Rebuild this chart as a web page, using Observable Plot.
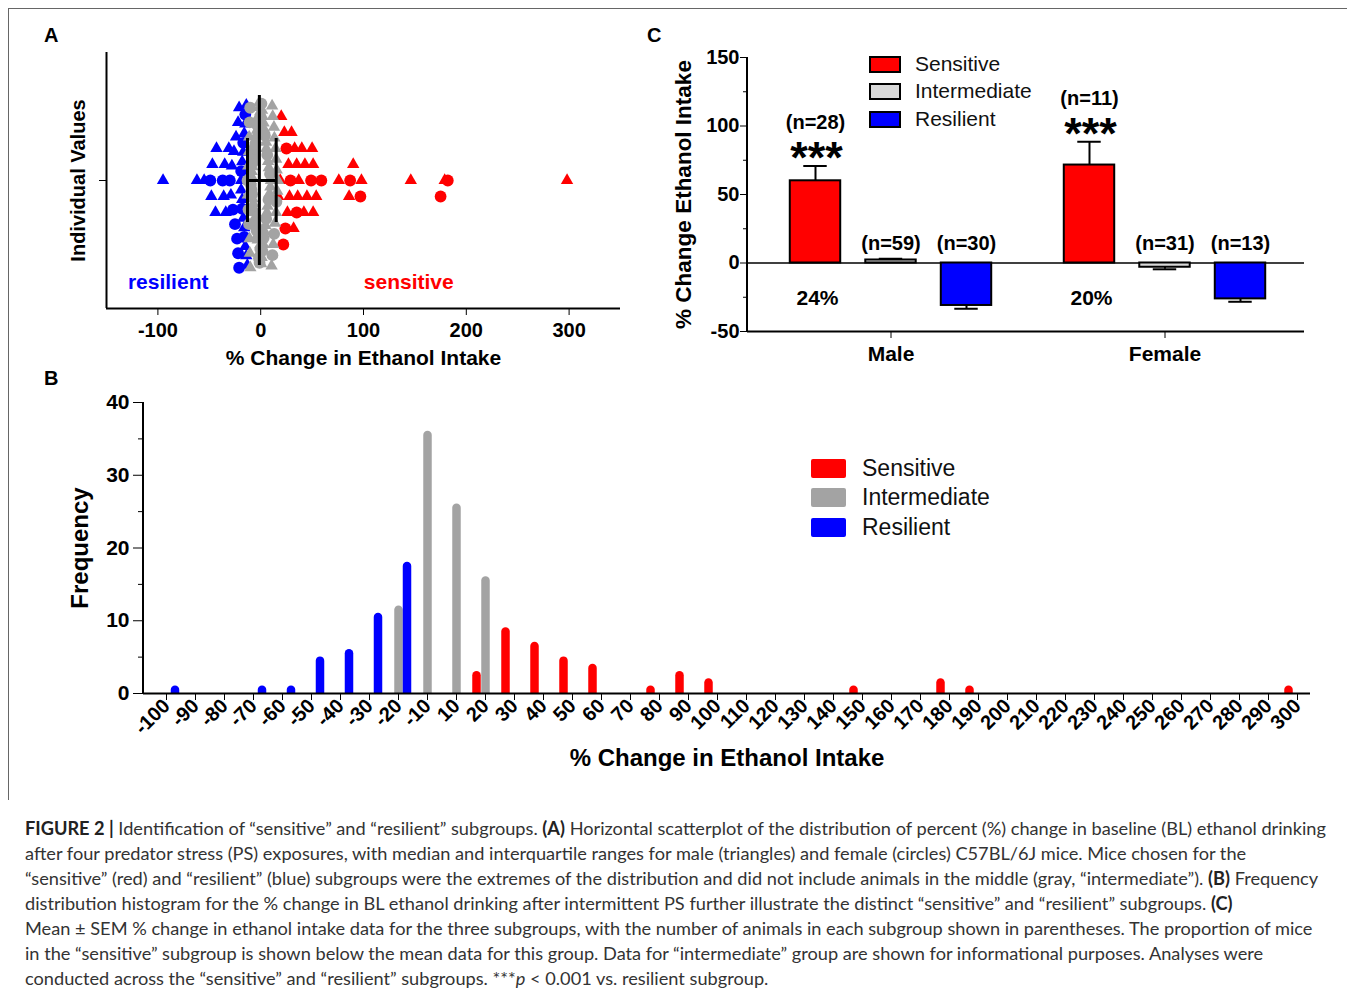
<!DOCTYPE html>
<html><head><meta charset="utf-8">
<script src="https://cdn.jsdelivr.net/npm/d3@7"></script>
<script src="https://cdn.jsdelivr.net/npm/@observablehq/plot@0.6"></script>
<style>
html,body{margin:0;padding:0;background:#fff;}
body{width:1355px;height:997px;position:relative;overflow:hidden;font-family:"Liberation Sans",Arial,Helvetica,sans-serif;}
.abs{position:absolute;}
.plab{position:absolute;font-weight:bold;font-size:20px;line-height:20px;color:#000;}
.lg{position:absolute;display:flex;align-items:center;white-space:nowrap;color:#111;}
.cap{position:absolute;left:25px;top:816px;font-family:Lato,"Open Sans",sans-serif;font-size:18.2px;line-height:25px;color:#333;}
.ln{white-space:nowrap;}
.cap b{color:#222;}
</style></head><body>
<div class="abs" style="left:8px;top:8px;width:1339px;height:1px;background:#666"></div>
<div class="abs" style="left:8px;top:8px;width:1px;height:792px;background:#666"></div>
<div class="plab" style="left:44px;top:25px">A</div>
<div class="plab" style="left:44px;top:368px">B</div>
<div class="plab" style="left:647px;top:25px">C</div>

<div class="cap">
<div class="ln"><b>FIGURE 2 |</b> Identification of “sensitive” and “resilient” subgroups. <b>(A)</b> Horizontal scatterplot of the distribution of percent (%) change in baseline (BL) ethanol drinking</div>
<div class="ln">after four predator stress (PS) exposures, with median and interquartile ranges for male (triangles) and female (circles) C57BL/6J mice. Mice chosen for the</div>
<div class="ln">“sensitive” (red) and “resilient” (blue) subgroups were the extremes of the distribution and did not include animals in the middle (gray, “intermediate”). <b>(B)</b> Frequency</div>
<div class="ln">distribution histogram for the % change in BL ethanol drinking after intermittent PS further illustrate the distinct “sensitive” and “resilient” subgroups. <b>(C)</b></div>
<div class="ln">Mean ± SEM % change in ethanol intake data for the three subgroups, with the number of animals in each subgroup shown in parentheses. The proportion of mice</div>
<div class="ln">in the “sensitive” subgroup is shown below the mean data for this group. Data for “intermediate” group are shown for informational purposes. Analyses were</div>
<div class="ln">conducted across the “sensitive” and “resilient” subgroups. ***<i>p</i> &lt; 0.001 vs. resilient subgroup.</div>
</div>

<script>
const FONT = "'Liberation Sans', Arial, Helvetica, sans-serif";

// ---------------- shared categories ----------------
const groups = ["Sensitive", "Intermediate", "Resilient"];
const groupColors = ["#ff0000", "#a3a3a3", "#0000ff"];
const barColorsC = ["#ff0000", "#d9d9d9", "#0000ff"];
const sexes = ["Male", "Female"];

// ---------------- Panel A: individual values (% change) ----------------
const maleSensitive = [17, 19, 20, 23, 26, 27, 28, 30, 32, 33, 35, 36, 37, 40, 42, 43, 45, 50, 51, 51, 54, 76, 86, 90, 98, 146, 179, 298];
const femaleSensitive = [22, 24, 25, 29, 35, 49, 59, 87, 97, 175, 182];
const maleIntermediate = [-12.6, -12.1, -11.4, -11.2, -10.8, -10.5, -10.1, -9.7, -9.2, -8.8, -8.1, -7.9, -7.3, -6.8, -6.0, -5.4, -5.1, -4.7, -4.2, -3.6, -3.3, -2.9, -2.2, -1.8, -1.5, -0.9, -0.6, -0.2, 0.4, 0.9, 1.3, 1.9, 2.6, 2.8, 3.5, 3.9, 4.6, 5.2, 5.5, 6.1, 6.7, 7.2, 7.9, 8.6, 9.4, 9.9, 10.6, 11.1, 11.7, 12.2, 12.9, 13.3, 13.8, 14.4, 14.9, 15.0, 15.6, 16.1, 16.7];
const femaleIntermediate = [-12.8, -11.9, -11.3, -10.7, -10.2, -9.6, -9.0, -8.4, -7.7, -7.1, -6.4, -5.8, -5.2, -4.5, -3.9, -3.1, -2.5, -1.7, -1.1, -0.4, 0.7, 1.6, 2.9, 4.1, 5.3, 6.4, 7.6, 9.1, 11.4, 13.1, 15.3];
const maleResilient = [-95, -62, -55, -48, -47, -44, -43, -36, -35, -34, -31, -29, -28, -26, -24, -22, -21, -19, -19, -18, -18, -17, -17, -16, -16, -15, -15, -14, -14, -13];
const femaleResilient = [-49, -37, -30, -27, -25, -23, -22, -21, -19, -18, -17, -16, -15];
const xTicksA = [-100, 0, 100, 200, 300];

// ---------------- Panel B: frequency histogram ----------------
const binLabels = [-100, -90, -80, -70, -60, -50, -40, -30, -20, -10, 10, 20, 30, 40, 50, 60, 70, 80, 90, 100, 110, 120, 130, 140, 150, 160, 170, 180, 190, 200, 210, 220, 230, 240, 250, 260, 270, 280, 290, 300];
const sensitiveFreq    = [0, 0, 0, 0, 0, 0, 0, 0, 0, 0, 0, 3, 9, 7, 5, 4, 0, 1, 3, 2, 0, 0, 0, 0, 1, 0, 0, 2, 1, 0, 0, 0, 0, 0, 0, 0, 0, 0, 0, 1];
const intermediateFreq = [0, 0, 0, 0, 0, 0, 0, 0, 12, 36, 26, 16, 0, 0, 0, 0, 0, 0, 0, 0, 0, 0, 0, 0, 0, 0, 0, 0, 0, 0, 0, 0, 0, 0, 0, 0, 0, 0, 0, 0];
const resilientFreq    = [1, 0, 0, 1, 1, 5, 6, 11, 18, 0, 0, 0, 0, 0, 0, 0, 0, 0, 0, 0, 0, 0, 0, 0, 0, 0, 0, 0, 0, 0, 0, 0, 0, 0, 0, 0, 0, 0, 0, 0];
const yTicksB = [0, 10, 20, 30, 40];
const yMinorB = [5, 15, 25, 35];

// ---------------- Panel C: mean ± SEM ----------------
const meanSensitive = [60, 71.5];
const semSensitive = [10.8, 17];
const meanIntermediate = [2.2, -3.1];
const semIntermediate = [0.9, 1.5];
const meanResilient = [-31, -26.2];
const semResilient = [2.4, 2.1];
const nSensitive = [28, 11];
const nIntermediate = [59, 31];
const nResilient = [30, 13];
const yTicksC = [-50, 0, 50, 100, 150];
const yMinorC = [-25, 25, 75, 125];

function svgStyle(extra) {
  return Object.assign({fontFamily: FONT, fontWeight: "bold", color: "black", background: "transparent", overflow: "visible", maxWidth: "none"}, extra || {});
}
function place(node, left, top) {
  const d = document.createElement("div");
  d.style.cssText = `position:absolute;left:${left}px;top:${top}px;`;
  d.appendChild(node);
  document.body.appendChild(d);
}

// ======== Panel A ========
const points = [];
function addPts(vals, group, sex) { vals.forEach(v => points.push({value: v, group, sex})); }
addPts(maleResilient, "Resilient", "Male");
addPts(femaleResilient, "Resilient", "Female");
addPts(maleSensitive, "Sensitive", "Male");
addPts(femaleSensitive, "Sensitive", "Female");
addPts(maleIntermediate, "Intermediate", "Male");
addPts(femaleIntermediate, "Intermediate", "Female");
const allVals = points.map(d => d.value);
const med = d3.median(allVals);
const q1 = d3.quantile(allVals, 0.25);
const q3 = d3.quantile(allVals, 0.75);

// column-scatter layout: points of a group falling in the same 10-unit bin are
// spread symmetrically across the column (most extreme value at the centre line)
const BIN = 10, HALF = 80, STEP = 16;
for (const [, arr] of d3.group(points, d => d.group + "|" + Math.floor(d.value / BIN))) {
  arr.sort((a, b) => Math.abs(b.value - med) - Math.abs(a.value - med));
  const n = arr.length;
  const s = n > 1 ? Math.min(STEP, 2 * HALF / (n - 1)) : 0;
  arr.forEach((d, i) => { d.spread = (i % 2 ? -1 : 1) * Math.ceil(i / 2) * s; });
}

const plotA = Plot.plot({
  width: 640, height: 380,
  marginLeft: 106, marginRight: 20, marginTop: 52, marginBottom: 72,
  x: {domain: [-150, 350]},
  y: {domain: [-128, 128]},
  r: {type: "identity"},
  color: {domain: groups, range: groupColors},
  symbol: {domain: ["Male", "Female"], range: ["triangle", "circle"]},
  style: svgStyle({fontSize: "20px"}),
  marks: [
    Plot.axisX({ticks: xTicksA, tickSize: 7, tickPadding: 7, fontSize: 20, tickFormat: d => String(d), label: null}),
    Plot.axisY({ticks: [0], tickSize: 7, tickFormat: () => "", label: null}),
    Plot.dot(points, {x: "value", y: "spread", r: d => d.sex === "Male" ? 4.6 : 5.9, symbol: "sex", fill: "group", sort: null}),
    Plot.ruleX([-150], {strokeWidth: 2}),
    Plot.ruleY([-128], {strokeWidth: 2}),
    Plot.ruleX([med], {y1: -85, y2: 85, strokeWidth: 3}),
    Plot.ruleX([q1, q3], {y1: -42, y2: 42, strokeWidth: 3}),
    Plot.ruleY([0], {x1: q1, x2: q3, strokeWidth: 3}),
    Plot.text(["resilient"], {x: -90, y: -102, fill: groupColors[2], fontSize: 21}),
    Plot.text(["sensitive"], {x: 144, y: -102, fill: groupColors[0], fontSize: 21}),
    Plot.text(["Individual Values"], {frameAnchor: "left", textAnchor: "middle", rotate: -90, dx: -28, fontSize: 20}),
    Plot.text(["% Change in Ethanol Intake"], {frameAnchor: "bottom", dy: 56, fontSize: 21})
  ]
});
place(plotA, 0, 0);

// ======== Panel B ========
const histRows = [];
binLabels.forEach((b, i) => {
  histRows.push({bin: b, group: "Sensitive", count: sensitiveFreq[i]});
  histRows.push({bin: b, group: "Intermediate", count: intermediateFreq[i]});
  histRows.push({bin: b, group: "Resilient", count: resilientFreq[i]});
});
const offsetsB = {Sensitive: -9, Intermediate: 0, Resilient: 8.5};
const frameWB = 1355 - 143 - 45;
const plotB = Plot.plot({
  width: 1355, height: 420,
  marginLeft: 143, marginRight: 45, marginTop: 22, marginBottom: 107,
  x: {type: "point", domain: binLabels, padding: 0, insetLeft: 14, insetRight: 5},
  y: {domain: [0, 40]},
  style: svgStyle({fontSize: "20px"}),
  marks: [
    ...groups.map((g, k) => Plot.ruleX(histRows.filter(d => d.group === g && d.count > 0), {
      x: "bin", y1: 0, y2: "count", dx: offsetsB[g], dy: 4, stroke: groupColors[k],
      strokeWidth: 8.5, strokeLinecap: "round", clip: true
    })),
    Plot.rect([0], {y1: 0, y2: 40, fill: "black", insetLeft: -1, insetRight: frameWB - 1}),
    Plot.ruleY([0], {strokeWidth: 2}),
    Plot.axisY({ticks: yTicksB, tickSize: 10, tickPadding: 4, fontSize: 21, tickFormat: d => String(d), label: null}),
    Plot.axisY({ticks: yMinorB, tickSize: 5, tickFormat: () => "", label: null}),
    Plot.axisX({tickSize: 7, tickPadding: 2, tickRotate: -45, fontSize: 20, tickFormat: d => String(d), label: null}),
    Plot.text(["Frequency"], {frameAnchor: "left", textAnchor: "middle", rotate: -90, dx: -63, fontSize: 24}),
    Plot.text(["% Change in Ethanol Intake"], {frameAnchor: "bottom", dy: 72, fontSize: 24})
  ]
});
place(plotB, 0, 380);

// ======== Panel C ========
const rowsC = [];
sexes.forEach((sex, i) => {
  const tot = nSensitive[i] + nIntermediate[i] + nResilient[i];
  rowsC.push({sex, group: "Sensitive", mean: meanSensitive[i], sem: semSensitive[i], n: nSensitive[i], pct: Math.round(100 * nSensitive[i] / tot) + "%"});
  rowsC.push({sex, group: "Intermediate", mean: meanIntermediate[i], sem: semIntermediate[i], n: nIntermediate[i]});
  rowsC.push({sex, group: "Resilient", mean: meanResilient[i], sem: semResilient[i], n: nResilient[i]});
});
const errEnd = d => d.mean + Math.sign(d.mean) * d.sem;
const cRange = [141, 635];
const padInC = 0.2;
const bwC = (cRange[1] - cRange[0]) / (sexes.length - padInC) * (1 - padInC);
const barW = 51, capW = 24;
const offsetsC = {Sensitive: -75.5, Intermediate: 0, Resilient: 75.5};
const frameWC = 700 - 107 - 36;
const marksC = [];
groups.forEach((g, k) => {
  const rows = rowsC.filter(d => d.group === g);
  const dx = offsetsC[g];
  marksC.push(
    Plot.barY(rows, {x: "sex", y: "mean", fill: barColorsC[k], stroke: "black", strokeWidth: 2,
      insetLeft: (bwC - barW) / 2, insetRight: (bwC - barW) / 2, dx}),
    Plot.ruleX(rows, {x: "sex", y1: "mean", y2: errEnd, dx, strokeWidth: 2}),
    Plot.tickY(rows, {x: "sex", y: errEnd, dx, strokeWidth: 2,
      insetLeft: (bwC - capW) / 2, insetRight: (bwC - capW) / 2}),
    Plot.text(rows, {x: "sex", y: d => g === "Sensitive" ? errEnd(d) + 31.6 : 14, text: d => `(n=${d.n})`, dx, fontSize: 20})
  );
  if (g === "Sensitive") {
    marksC.push(
      Plot.text(rows, {x: "sex", y: d => errEnd(d) + 5.2, text: () => "***", dx: dx + 1, fontSize: 45}),
      Plot.text(rows, {x: "sex", y: -26, text: "pct", dx: dx + 2, fontSize: 21})
    );
  }
});
const plotC = Plot.plot({
  width: 700, height: 375,
  marginLeft: 107, marginRight: 36, marginTop: 57, marginBottom: 44,
  x: {type: "band", domain: sexes, range: cRange, paddingInner: padInC, paddingOuter: 0},
  y: {domain: [-50, 150]},
  style: svgStyle({fontSize: "20px"}),
  marks: [
    Plot.ruleY([0], {strokeWidth: 1.5}),
    ...marksC,
    Plot.rect([0], {y1: -50, y2: 150, fill: "black", insetLeft: -1, insetRight: frameWC - 1}),
    Plot.ruleY([-50], {strokeWidth: 2}),
    Plot.axisY({ticks: yTicksC, tickSize: 7, tickPadding: 1, fontSize: 20, tickFormat: d => String(d), label: null}),
    Plot.axisY({ticks: yMinorC, tickSize: 4, tickFormat: () => "", label: null}),
    Plot.axisX({tickSize: 7, tickPadding: 8, fontSize: 21, label: null}),
    Plot.text(["% Change Ethanol Intake"], {frameAnchor: "left", textAnchor: "middle", rotate: -90, dx: -64, fontSize: 22.5})
  ]
});
place(plotC, 640, 0);

// ======== Legends (HTML) ========
function legendC(top, color, label) {
  const d = document.createElement("div");
  d.className = "lg";
  d.style.cssText += `left:869px;top:${top}px;font-size:21px;height:18px;`;
  d.innerHTML = `<span style="display:inline-block;width:28px;height:13px;border:2px solid #000;background:${color};margin-right:14px"></span>${label}`;
  document.body.appendChild(d);
}
groups.forEach((g, k) => legendC([55, 82, 110][k], barColorsC[k], g));
function legendB(top, color, label) {
  const d = document.createElement("div");
  d.className = "lg";
  d.style.cssText += `left:811px;top:${top}px;font-size:23px;height:19px;`;
  d.innerHTML = `<span style="display:inline-block;width:35px;height:19px;border-radius:2px;background:${color};margin-right:16px"></span>${label}`;
  document.body.appendChild(d);
}
groups.forEach((g, k) => legendB([459, 488, 518][k], groupColors[k], g));
</script>
</body></html>
